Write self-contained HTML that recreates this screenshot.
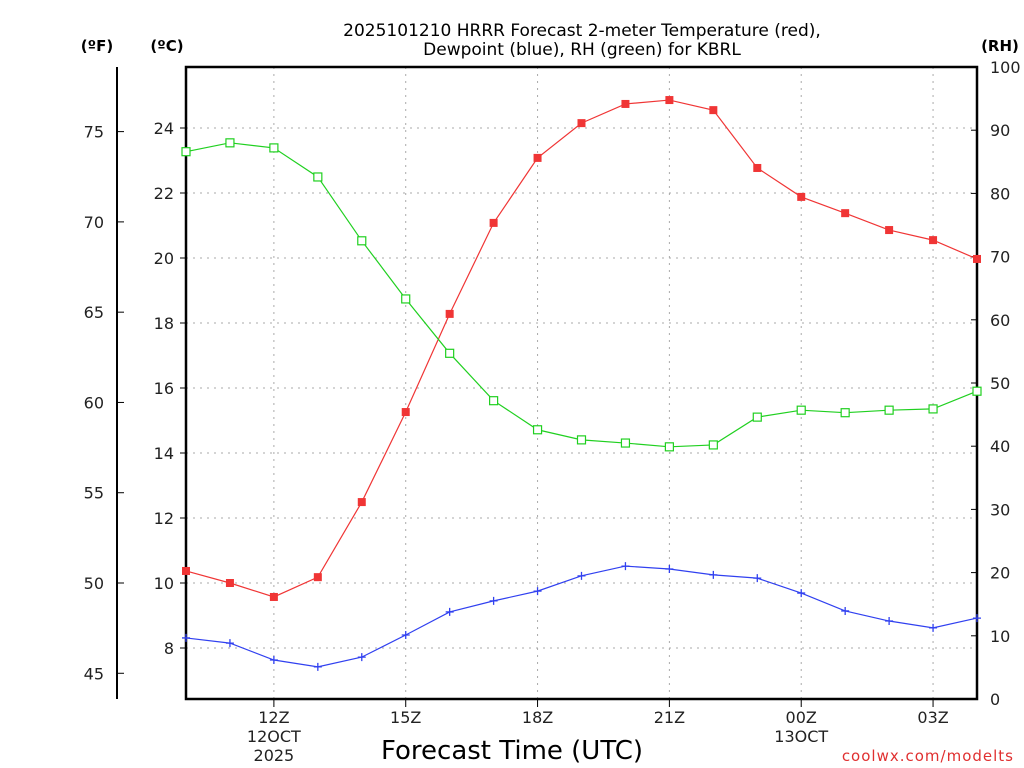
<!DOCTYPE html>
<html><head><meta charset="utf-8"><style>
body{margin:0;background:#fff;}
svg{display:block;font-family:"DejaVu Sans","Liberation Sans",sans-serif;}
</style></head><body>
<svg id="chart" width="1024" height="768" viewBox="0 0 1024 768" xmlns="http://www.w3.org/2000/svg">
<rect width="1024" height="768" fill="#fff"/>
<text x="582" y="36" text-anchor="middle" font-size="17" fill="#000">2025101210 HRRR Forecast 2-meter Temperature (red),</text>
<text x="582" y="55" text-anchor="middle" font-size="17" fill="#000">Dewpoint (blue), RH (green) for KBRL</text>
<text x="97" y="51" text-anchor="middle" font-size="15" font-weight="bold">(ºF)</text>
<text x="167" y="51" text-anchor="middle" font-size="15" font-weight="bold">(ºC)</text>
<text x="1000" y="51" text-anchor="middle" font-size="15" font-weight="bold">(RH)</text>
<text x="512" y="759" text-anchor="middle" font-size="26">Forecast Time (UTC)</text>
<text x="1014" y="761" text-anchor="end" font-size="15" fill="#e03030" letter-spacing="1">coolwx.com/modelts</text>
<g id="grid"></g><g id="axes"></g><g id="series"></g>
</svg>
<script>
const hours=[10,11,12,13,14,15,16,17,18,19,20,21,22,23,24,25,26,27,28];
const tempC=[10.37,10.0,9.57,10.18,12.49,15.26,18.28,21.08,23.08,24.15,24.74,24.86,24.55,22.77,21.88,21.38,20.86,20.55,19.97];
const dewC=[8.31,8.15,7.63,7.42,7.72,8.40,9.11,9.45,9.75,10.22,10.52,10.43,10.25,10.15,9.69,9.14,8.83,8.62,8.92];
const rh=[86.6,88.0,87.2,82.6,72.5,63.3,54.7,47.2,42.6,41.0,40.5,39.9,40.2,44.6,45.7,45.3,45.7,45.9,48.7];
const cTicks=[8,10,12,14,16,18,20,22,24];
const fTicks=[45,50,55,60,65,70,75];
const rhTicks=[0,10,20,30,40,50,60,70,80,90,100];
const xTickHours=[12,15,18,21,24,27];
const xTickLabels=["12Z","15Z","18Z","21Z","00Z","03Z"];
const xSubLabels={12:["12OCT","2025"],24:["13OCT"]};

const L=186,R=977,T=67,B=699;
const X=h=>L+(h-10)*(R-L)/18;
const YC=c=>128+(24-c)*32.5;
const YR=r=>B-r*(B-T)/100;
const YF=f=>YC((f-32)/1.8);
const NS="http://www.w3.org/2000/svg";
function mk(p,tag,a,txt){const e=document.createElementNS(NS,tag);for(const k in a)e.setAttribute(k,a[k]);if(txt!==undefined)e.textContent=txt;p.appendChild(e);return e;}
const grid=document.getElementById('grid'),axes=document.getElementById('axes'),ser=document.getElementById('series');
cTicks.forEach(c=>{
 const g=mk(grid,'line',{x1:L,x2:R,y1:YC(c),y2:YC(c),stroke:'#aaa','stroke-dasharray':'2,5'});
 
 
 const t=mk(axes,'text',{x:L-12,y:YC(c)+6,'text-anchor':'end','font-size':'16',fill:'#222'},c);
 
 
 mk(axes,'line',{x1:L-6,x2:L,y1:YC(c),y2:YC(c),stroke:'#000'});
});
xTickHours.forEach((h,i)=>{
 const g=mk(grid,'line',{x1:X(h),x2:X(h),y1:T,y2:B,stroke:'#aaa','stroke-dasharray':'2,5'});
 
 
 mk(axes,'line',{x1:X(h),x2:X(h),y1:B,y2:B+8,stroke:'#000'});
 const t=mk(axes,'text',{x:X(h),y:B+24,'text-anchor':'middle','font-size':'16',fill:'#222'},xTickLabels[i]);
 
 
 (xSubLabels[h]||[]).forEach((s,j)=>{
  const u=mk(axes,'text',{x:X(h),y:B+43+j*19,'text-anchor':'middle','font-size':'16',fill:'#222'},s);
  
  
 });
});
fTicks.forEach(f=>{
 mk(axes,'line',{x1:117,x2:124,y1:YF(f),y2:YF(f),stroke:'#000'});
 const t=mk(axes,'text',{x:104,y:YF(f)+6,'text-anchor':'end','font-size':'16',fill:'#222'},f);
 
 
});
rhTicks.forEach(r=>{
 mk(axes,'line',{x1:R-6,x2:R,y1:YR(r),y2:YR(r),stroke:'#000'});
 const t=mk(axes,'text',{x:990,y:YR(r)+6,'font-size':'16',fill:'#222'},r);
 
 
});
const fa=mk(axes,'line',{x1:117,x2:117,y1:T,y2:B,stroke:'#000','stroke-width':2});


const fr=mk(axes,'rect',{x:L,y:T,width:R-L,height:B-T,fill:'none',stroke:'#000','stroke-width':2.5});


function line(vals,yf,color,name){
 const p=mk(ser,'polyline',{points:vals.map((v,i)=>X(hours[i])+','+yf(v)).join(' '),fill:'none',stroke:color,'stroke-width':1.2});
 
 
}
line(tempC,YC,'#f03535','temperature');
line(dewC,YC,'#3040f0','dewpoint');
line(rh,YR,'#20d020','rh');
tempC.forEach((v,i)=>{const m=mk(ser,'rect',{x:X(hours[i])-4,y:YC(v)-4,width:8,height:8,fill:'#f03535'});
 
 });
dewC.forEach((v,i)=>{const x=X(hours[i]),y=YC(v);const m=mk(ser,'path',{d:`M${x-4},${y}H${x+4}M${x},${y-4}V${y+4}`,stroke:'#3040f0','stroke-width':1.3});
 
 });
rh.forEach((v,i)=>{const m=mk(ser,'rect',{x:X(hours[i])-4,y:YR(v)-4,width:8,height:8,fill:'#fff',stroke:'#20d020','stroke-width':1.2});
 
 });
</script>
</body></html>
